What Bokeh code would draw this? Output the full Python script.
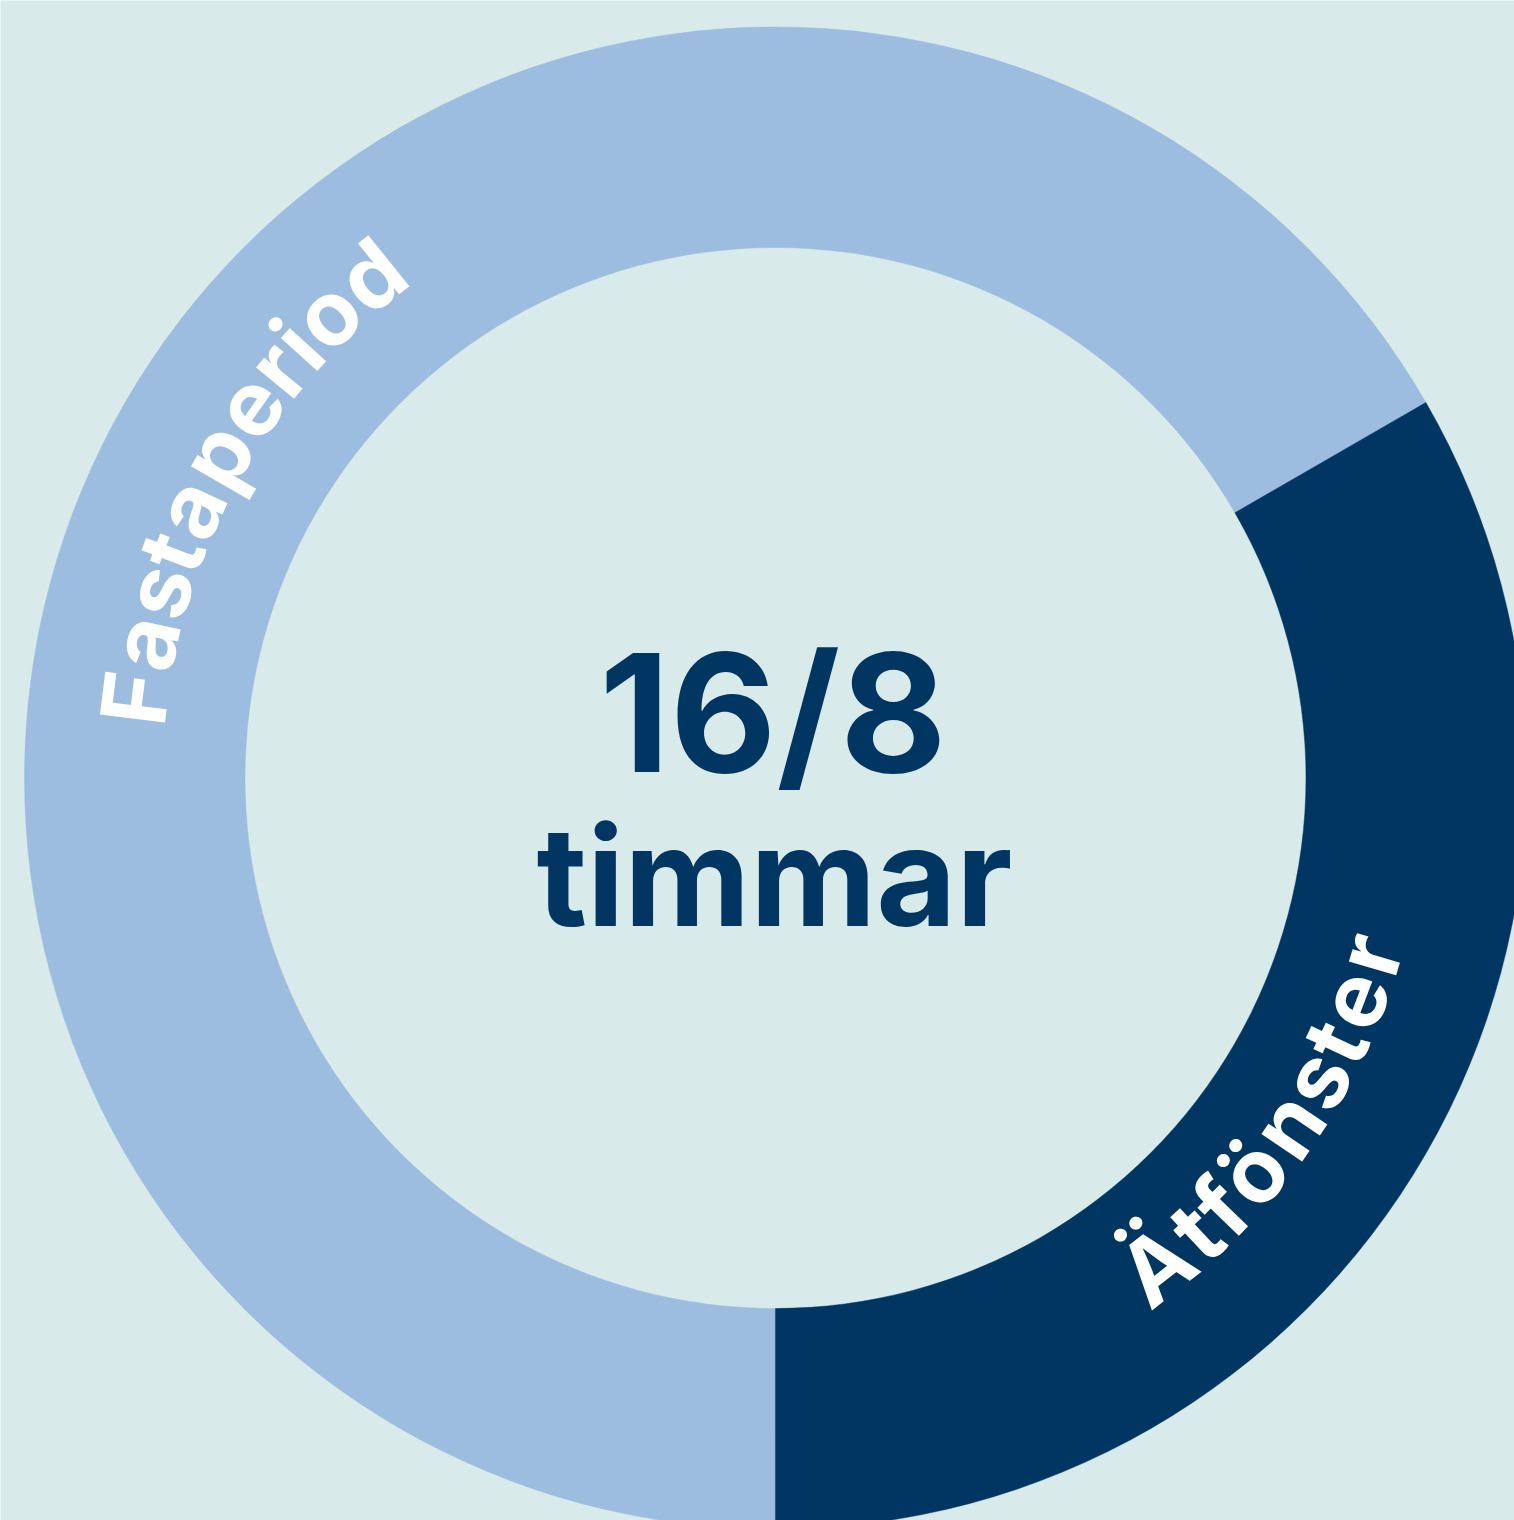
import math
from bokeh.plotting import figure
from bokeh.models import ColumnDataSource
from bokeh.core.properties import value
from bokeh.embed import file_html
from bokeh.resources import INLINE

# ---- data ----
categories = ["Fastaperiod", "Ätfönster"]
hours = [16, 8]
colors = ["#9cbde0", "#013663"]
unit_label = "timmar"

BG = "#d8eaea"
FONT = "Inter"
BASE_SHIFT = 0.37   # em; renderer places alphabetic baseline this much lower

# ---- layout (pixels) ----
W, H = 1514, 1520
CX, CY = 775, 777.5          # ring centre measured from top-left
R_IN, R_OUT = 530.5, 751

p = figure(width=W, height=H,
           x_range=(-CX, W - CX), y_range=(-(H - CY), CY),
           output_backend="svg", toolbar_location=None,
           x_axis_location=None, y_axis_location=None,
           min_border=0, background_fill_color=BG,
           border_fill_color=BG, outline_line_color=None)
p.grid.visible = False

# ---- wedges: start at the bottom, go anticlockwise (last category first) ----
total = sum(hours)
starts, ends = [0.0] * len(hours), [0.0] * len(hours)
a = -math.pi / 2
for i in reversed(range(len(hours))):
    starts[i] = a
    a += 2 * math.pi * hours[i] / total
    ends[i] = a

src = ColumnDataSource(dict(x=[0] * len(hours), y=[0] * len(hours),
                            start=starts, end=ends, color=colors,
                            cat=categories, hours=hours))
p.annular_wedge(x="x", y="y", inner_radius=R_IN, outer_radius=R_OUT,
                start_angle="start", end_angle="end", color="color",
                line_color="color", line_width=0.5, direction="anticlock",
                source=src)

# ---- curved labels along the ring ----
ADV = {"F": 0.58, "a": 0.64, "s": 0.51, "t": 0.38, "p": 0.65, "e": 0.61,
       "r": 0.41, "i": 0.27, "o": 0.63, "d": 0.65, "Ä": 0.72, "f": 0.37,
       "ö": 0.63, "n": 0.63}

# label: (start angle deg, baseline radius, px per em, clockwise?)
label_layout = {
    "Fastaperiod": (175.3, 612.0, 88.0, True),
    "Ätfönster": (-55.1, 652.0, 99.0, False),
}
FONT_PX = 90
shift = BASE_SHIFT * FONT_PX

cx, cy, ct, ca = [], [], [], []
for cat in categories:
    start_deg, rb, scale, cw = label_layout[cat]
    r_anchor = rb + shift if cw else rb - shift
    cum = 0.0
    for ch in cat:
        w = ADV.get(ch, 0.6)
        d = math.degrees((cum + w / 2) * scale / rb)
        th = start_deg - d if cw else start_deg + d
        t = math.radians(th)
        cx.append(r_anchor * math.cos(t))
        cy.append(r_anchor * math.sin(t))
        ct.append(ch)
        ca.append(t - math.pi / 2 if cw else t + math.pi / 2)
        cum += w

p.text(x=cx, y=cy, text=ct, angle=ca, text_align="center",
       text_baseline="alphabetic", text_color="white",
       text_font=value(FONT), text_font_style="bold",
       text_font_size=f"{FONT_PX}px")

# ---- centre text ----
ratio = "/".join(str(h) for h in hours)
p.text(x=[-2.5], y=[4.5 + BASE_SHIFT * 164], text=[ratio], text_align="center",
       text_baseline="alphabetic", text_color=colors[1],
       text_font=value(FONT), text_font_style="bold",
       text_font_size="164px")
p.text(x=[-1], y=[-148.5 + BASE_SHIFT * 138], text=[unit_label], text_align="center",
       text_baseline="alphabetic", text_color=colors[1],
       text_font=value(FONT), text_font_style="bold",
       text_font_size="138px")

open("out.html", "w").write(file_html(p, INLINE))
